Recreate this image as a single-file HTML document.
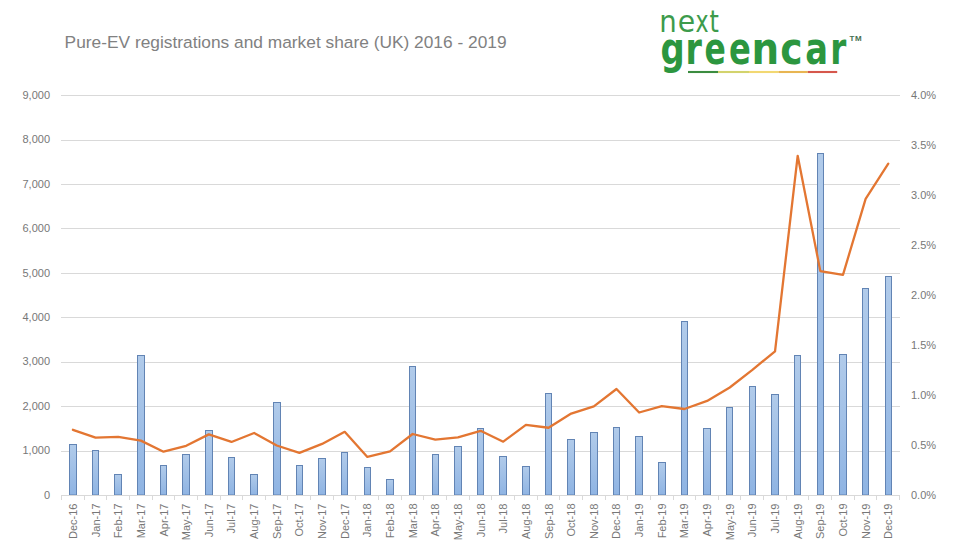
<!DOCTYPE html>
<html><head><meta charset="utf-8"><style>
html,body{margin:0;padding:0;background:#fff;}
body{width:956px;height:551px;overflow:hidden;position:relative;}
svg{position:absolute;left:0;top:0;}
</style></head><body>
<svg width="956" height="551" viewBox="0 0 956 551">
<defs>
<linearGradient id="bg" x1="0" y1="0" x2="0" y2="1">
<stop offset="0" stop-color="#b1cbea"/><stop offset="1" stop-color="#8fb4e3"/>
</linearGradient>
</defs>
<rect width="956" height="551" fill="#fff"/>
<text x="64.6" y="47.9" font-family="Liberation Sans, sans-serif" font-size="16.8" fill="#818181" textLength="442" lengthAdjust="spacingAndGlyphs">Pure-EV registrations and market share (UK) 2016 - 2019</text>
<g stroke="#d9d9d9" stroke-width="1"><line x1="61" x2="900" y1="95.5" y2="95.5"/><line x1="61" x2="900" y1="140.5" y2="140.5"/><line x1="61" x2="900" y1="184.5" y2="184.5"/><line x1="61" x2="900" y1="228.5" y2="228.5"/><line x1="61" x2="900" y1="273.5" y2="273.5"/><line x1="61" x2="900" y1="317.5" y2="317.5"/><line x1="61" x2="900" y1="362.5" y2="362.5"/><line x1="61" x2="900" y1="406.5" y2="406.5"/><line x1="61" x2="900" y1="451.5" y2="451.5"/></g>
<g fill="url(#bg)" stroke="#6284b4" stroke-width="1"><rect x="69.5" y="444.5" width="7" height="50.5"/><rect x="92.5" y="450.5" width="6" height="44.5"/><rect x="114.5" y="474.5" width="7" height="20.5"/><rect x="137.5" y="355.5" width="7" height="139.5"/><rect x="160.5" y="465.5" width="6" height="29.5"/><rect x="182.5" y="454.5" width="7" height="40.5"/><rect x="205.5" y="430.5" width="7" height="64.5"/><rect x="228.5" y="457.5" width="6" height="37.5"/><rect x="250.5" y="474.5" width="7" height="20.5"/><rect x="273.5" y="402.5" width="7" height="92.5"/><rect x="296.5" y="465.5" width="6" height="29.5"/><rect x="318.5" y="458.5" width="7" height="36.5"/><rect x="341.5" y="452.5" width="6" height="42.5"/><rect x="364.5" y="467.5" width="6" height="27.5"/><rect x="386.5" y="479.5" width="7" height="15.5"/><rect x="409.5" y="366.5" width="6" height="128.5"/><rect x="432.5" y="454.5" width="6" height="40.5"/><rect x="454.5" y="446.5" width="7" height="48.5"/><rect x="477.5" y="428.5" width="6" height="66.5"/><rect x="499.5" y="456.5" width="7" height="38.5"/><rect x="522.5" y="466.5" width="7" height="28.5"/><rect x="545.5" y="393.5" width="6" height="101.5"/><rect x="567.5" y="439.5" width="7" height="55.5"/><rect x="590.5" y="432.5" width="7" height="62.5"/><rect x="613.5" y="427.5" width="6" height="67.5"/><rect x="635.5" y="436.5" width="7" height="58.5"/><rect x="658.5" y="462.5" width="7" height="32.5"/><rect x="681.5" y="321.5" width="6" height="173.5"/><rect x="703.5" y="428.5" width="7" height="66.5"/><rect x="726.5" y="407.5" width="6" height="87.5"/><rect x="749.5" y="386.5" width="6" height="108.5"/><rect x="771.5" y="394.5" width="7" height="100.5"/><rect x="794.5" y="355.5" width="6" height="139.5"/><rect x="817.5" y="153.5" width="6" height="341.5"/><rect x="839.5" y="354.5" width="7" height="140.5"/><rect x="862.5" y="288.5" width="6" height="206.5"/><rect x="885.5" y="276.5" width="6" height="218.5"/></g>
<g stroke="#d9d9d9" stroke-width="1"><line x1="61" x2="900" y1="495.5" y2="495.5"/><line x1="61.5" x2="61.5" y1="495" y2="500"/><line x1="84.5" x2="84.5" y1="495" y2="500"/><line x1="106.5" x2="106.5" y1="495" y2="500"/><line x1="129.5" x2="129.5" y1="495" y2="500"/><line x1="152.5" x2="152.5" y1="495" y2="500"/><line x1="174.5" x2="174.5" y1="495" y2="500"/><line x1="197.5" x2="197.5" y1="495" y2="500"/><line x1="220.5" x2="220.5" y1="495" y2="500"/><line x1="242.5" x2="242.5" y1="495" y2="500"/><line x1="265.5" x2="265.5" y1="495" y2="500"/><line x1="287.5" x2="287.5" y1="495" y2="500"/><line x1="310.5" x2="310.5" y1="495" y2="500"/><line x1="333.5" x2="333.5" y1="495" y2="500"/><line x1="355.5" x2="355.5" y1="495" y2="500"/><line x1="378.5" x2="378.5" y1="495" y2="500"/><line x1="401.5" x2="401.5" y1="495" y2="500"/><line x1="423.5" x2="423.5" y1="495" y2="500"/><line x1="446.5" x2="446.5" y1="495" y2="500"/><line x1="469.5" x2="469.5" y1="495" y2="500"/><line x1="491.5" x2="491.5" y1="495" y2="500"/><line x1="514.5" x2="514.5" y1="495" y2="500"/><line x1="537.5" x2="537.5" y1="495" y2="500"/><line x1="559.5" x2="559.5" y1="495" y2="500"/><line x1="582.5" x2="582.5" y1="495" y2="500"/><line x1="605.5" x2="605.5" y1="495" y2="500"/><line x1="627.5" x2="627.5" y1="495" y2="500"/><line x1="650.5" x2="650.5" y1="495" y2="500"/><line x1="673.5" x2="673.5" y1="495" y2="500"/><line x1="695.5" x2="695.5" y1="495" y2="500"/><line x1="718.5" x2="718.5" y1="495" y2="500"/><line x1="740.5" x2="740.5" y1="495" y2="500"/><line x1="763.5" x2="763.5" y1="495" y2="500"/><line x1="786.5" x2="786.5" y1="495" y2="500"/><line x1="808.5" x2="808.5" y1="495" y2="500"/><line x1="831.5" x2="831.5" y1="495" y2="500"/><line x1="854.5" x2="854.5" y1="495" y2="500"/><line x1="876.5" x2="876.5" y1="495" y2="500"/><line x1="899.5" x2="899.5" y1="495" y2="500"/></g>
<polyline points="72.92,429.80 95.57,437.70 118.22,436.90 140.87,440.60 163.52,451.70 186.17,445.80 208.82,434.40 231.46,441.95 254.11,432.96 276.76,445.50 299.41,452.90 322.06,443.90 344.71,431.85 367.36,456.90 390.01,451.40 412.65,434.00 435.30,439.70 457.95,437.30 480.60,430.80 503.25,441.70 525.90,424.85 548.55,427.75 571.19,413.60 593.84,406.30 616.49,389.00 639.14,412.50 661.79,406.10 684.44,409.00 707.09,400.90 729.74,387.50 752.38,369.90 775.03,351.30 797.68,155.80 820.33,271.10 842.98,274.90 865.63,198.80 888.28,163.70" fill="none" stroke="#e37632" stroke-width="2.3" stroke-linejoin="round" stroke-linecap="round"/>
<g font-family="Liberation Sans, sans-serif" font-size="11" fill="#777777"><text x="50" y="498.80" text-anchor="end">0</text><text x="50" y="454.36" text-anchor="end">1,000</text><text x="50" y="409.91" text-anchor="end">2,000</text><text x="50" y="365.47" text-anchor="end">3,000</text><text x="50" y="321.02" text-anchor="end">4,000</text><text x="50" y="276.58" text-anchor="end">5,000</text><text x="50" y="232.13" text-anchor="end">6,000</text><text x="50" y="187.69" text-anchor="end">7,000</text><text x="50" y="143.24" text-anchor="end">8,000</text><text x="50" y="98.80" text-anchor="end">9,000</text><text x="911" y="498.80">0.0%</text><text x="911" y="448.80">0.5%</text><text x="911" y="398.80">1.0%</text><text x="911" y="348.80">1.5%</text><text x="911" y="298.80">2.0%</text><text x="911" y="248.80">2.5%</text><text x="911" y="198.80">3.0%</text><text x="911" y="148.80">3.5%</text><text x="911" y="98.80">4.0%</text><text transform="translate(76.92,503.5) rotate(-90)" text-anchor="end">Dec-16</text><text transform="translate(99.57,503.5) rotate(-90)" text-anchor="end">Jan-17</text><text transform="translate(122.22,503.5) rotate(-90)" text-anchor="end">Feb-17</text><text transform="translate(144.87,503.5) rotate(-90)" text-anchor="end">Mar-17</text><text transform="translate(167.52,503.5) rotate(-90)" text-anchor="end">Apr-17</text><text transform="translate(190.17,503.5) rotate(-90)" text-anchor="end">May-17</text><text transform="translate(212.82,503.5) rotate(-90)" text-anchor="end">Jun-17</text><text transform="translate(235.46,503.5) rotate(-90)" text-anchor="end">Jul-17</text><text transform="translate(258.11,503.5) rotate(-90)" text-anchor="end">Aug-17</text><text transform="translate(280.76,503.5) rotate(-90)" text-anchor="end">Sep-17</text><text transform="translate(303.41,503.5) rotate(-90)" text-anchor="end">Oct-17</text><text transform="translate(326.06,503.5) rotate(-90)" text-anchor="end">Nov-17</text><text transform="translate(348.71,503.5) rotate(-90)" text-anchor="end">Dec-17</text><text transform="translate(371.36,503.5) rotate(-90)" text-anchor="end">Jan-18</text><text transform="translate(394.01,503.5) rotate(-90)" text-anchor="end">Feb-18</text><text transform="translate(416.65,503.5) rotate(-90)" text-anchor="end">Mar-18</text><text transform="translate(439.30,503.5) rotate(-90)" text-anchor="end">Apr-18</text><text transform="translate(461.95,503.5) rotate(-90)" text-anchor="end">May-18</text><text transform="translate(484.60,503.5) rotate(-90)" text-anchor="end">Jun-18</text><text transform="translate(507.25,503.5) rotate(-90)" text-anchor="end">Jul-18</text><text transform="translate(529.90,503.5) rotate(-90)" text-anchor="end">Aug-18</text><text transform="translate(552.55,503.5) rotate(-90)" text-anchor="end">Sep-18</text><text transform="translate(575.19,503.5) rotate(-90)" text-anchor="end">Oct-18</text><text transform="translate(597.84,503.5) rotate(-90)" text-anchor="end">Nov-18</text><text transform="translate(620.49,503.5) rotate(-90)" text-anchor="end">Dec-18</text><text transform="translate(643.14,503.5) rotate(-90)" text-anchor="end">Jan-19</text><text transform="translate(665.79,503.5) rotate(-90)" text-anchor="end">Feb-19</text><text transform="translate(688.44,503.5) rotate(-90)" text-anchor="end">Mar-19</text><text transform="translate(711.09,503.5) rotate(-90)" text-anchor="end">Apr-19</text><text transform="translate(733.74,503.5) rotate(-90)" text-anchor="end">May-19</text><text transform="translate(756.38,503.5) rotate(-90)" text-anchor="end">Jun-19</text><text transform="translate(779.03,503.5) rotate(-90)" text-anchor="end">Jul-19</text><text transform="translate(801.68,503.5) rotate(-90)" text-anchor="end">Aug-19</text><text transform="translate(824.33,503.5) rotate(-90)" text-anchor="end">Sep-19</text><text transform="translate(846.98,503.5) rotate(-90)" text-anchor="end">Oct-19</text><text transform="translate(869.63,503.5) rotate(-90)" text-anchor="end">Nov-19</text><text transform="translate(892.28,503.5) rotate(-90)" text-anchor="end">Dec-19</text></g>
<g font-family="Liberation Sans, sans-serif"><text transform="translate(659.36,31.6) scale(0.914,1)" font-family="DejaVu Sans" font-size="30.2" font-weight="normal" fill="#3d9b4b">n</text><text transform="translate(677.72,31.6) scale(0.940,1)" font-family="DejaVu Sans" font-size="30.2" font-weight="normal" fill="#3d9b4b">e</text><text transform="translate(695.57,31.6) scale(0.733,1)" font-family="DejaVu Sans" font-size="30.2" font-weight="normal" fill="#3d9b4b">x</text><text transform="translate(709.61,31.6) scale(0.790,1)" font-family="DejaVu Sans" font-size="30.2" font-weight="normal" fill="#3d9b4b">t</text><text transform="translate(660.46,63.5) scale(0.769,1)" font-family="DejaVu Sans" font-size="44" font-weight="bold" fill="#2c963f">g</text><text transform="translate(685.38,63.5) scale(0.756,1)" font-family="DejaVu Sans" font-size="44" font-weight="bold" fill="#2c963f">r</text><text transform="translate(704.57,63.5) scale(0.715,1)" font-family="DejaVu Sans" font-size="44" font-weight="bold" fill="#2c963f">e</text><text transform="translate(728.94,63.5) scale(0.731,1)" font-family="DejaVu Sans" font-size="44" font-weight="bold" fill="#2c963f">e</text><text transform="translate(751.57,63.5) scale(0.883,1)" font-family="DejaVu Sans" font-size="44" font-weight="bold" fill="#2c963f">n</text><text transform="translate(780.29,63.5) scale(0.857,1)" font-family="DejaVu Sans" font-size="44" font-weight="bold" fill="#2c963f">c</text><text transform="translate(805.27,63.5) scale(0.767,1)" font-family="DejaVu Sans" font-size="44" font-weight="bold" fill="#2c963f">a</text><text transform="translate(830.24,63.5) scale(0.739,1)" font-family="DejaVu Sans" font-size="44" font-weight="bold" fill="#2c963f">r</text><text x="849.6" y="40.8" font-size="8" font-weight="bold" letter-spacing="0.6" fill="#46704f">TM</text></g>
<g stroke-width="2.1">
<line x1="688" x2="718" y1="72" y2="72" stroke="#3b8c3f"/>
<line x1="718" x2="749" y1="72" y2="72" stroke="#d3d36c"/>
<line x1="749" x2="778.4" y1="72" y2="72" stroke="#f2d872"/>
<line x1="778.4" x2="807.8" y1="72" y2="72" stroke="#e8b552"/>
<line x1="807.8" x2="837.2" y1="72" y2="72" stroke="#d6574c"/>
</g>
</svg>
</body></html>
